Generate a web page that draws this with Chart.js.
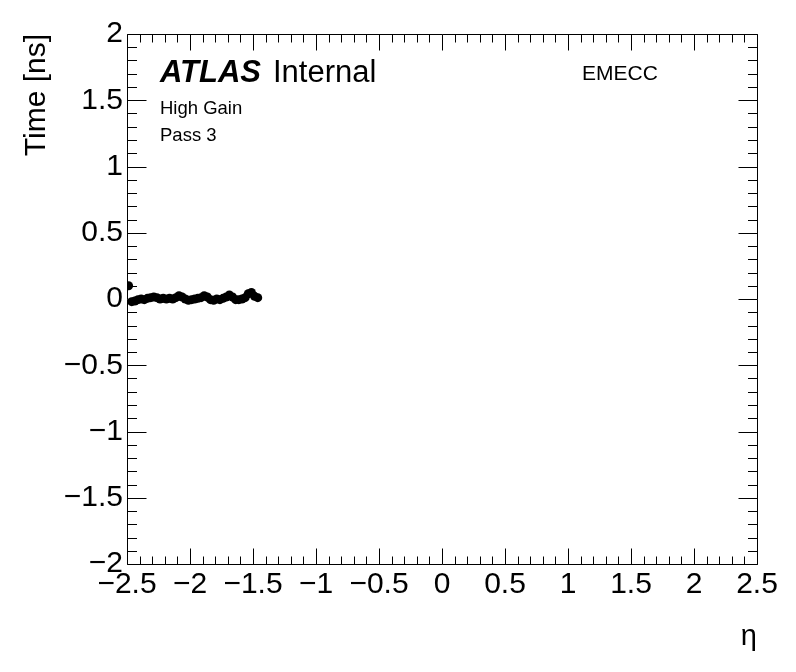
<!DOCTYPE html>
<html><head><meta charset="utf-8">
<script src="https://cdn.jsdelivr.net/npm/chart.js@4/dist/chart.umd.min.js"></script>
<style>html,body{margin:0;padding:0;background:#fff;}canvas{display:block;}</style>
</head><body>
<canvas id="c" width="796" height="672"></canvas>
<script>
// eta bin centres (EMEC C-side)
const etaValues = [-2.4875, -2.4625, -2.4375, -2.4125, -2.3875, -2.3625, -2.3375, -2.3125,
  -2.2875, -2.2625, -2.2375, -2.2125, -2.1875, -2.1625, -2.1375, -2.1125,
  -2.0875, -2.0625, -2.0375, -2.0125, -1.9875, -1.9625, -1.9375, -1.9125,
  -1.8875, -1.8625, -1.8375, -1.8125, -1.7875, -1.7625, -1.7375, -1.7125,
  -1.6875, -1.6625, -1.6375, -1.6125, -1.5875, -1.5625, -1.5375, -1.5125,
  -1.4875, -1.4625];
// mean time [ns]
const timeValues = [0.10, -0.02, -0.015, -0.005, 0.0, -0.005, 0.005, 0.01,
  0.015, 0.01, 0.0, 0.005, 0.0, 0.005, 0.0, 0.01,
  0.025, 0.015, 0.0, -0.01, -0.005, 0.0, 0.005, 0.01,
  0.025, 0.015, -0.005, -0.01, 0.0, -0.005, 0.005, 0.015,
  0.03, 0.015, -0.005, -0.005, 0.0, 0.01, 0.04, 0.05,
  0.02, 0.01];
const xTickValues = [-2.5, -2, -1.5, -1, -0.5, 0, 0.5, 1, 1.5, 2, 2.5];
const xTickLabels = ['\u22122.5', '\u22122', '\u22121.5', '\u22121', '\u22120.5', '0', '0.5', '1', '1.5', '2', '2.5'];
const yTickValues = [-2, -1.5, -1, -0.5, 0, 0.5, 1, 1.5, 2];
const yTickLabels = ['\u22122', '\u22121.5', '\u22121', '\u22120.5', '0', '0.5', '1', '1.5', '2'];
const xTitle = '\u03b7';
const yTitle = 'Time [ns]';
const labelATLAS = 'ATLAS';
const labelStatus = 'Internal';
const labelRegion = 'EMECC';
const labelGain = 'High Gain';
const labelPass = 'Pass 3';

const FONT = "'Liberation Sans', Arial, Helvetica, sans-serif";

const framePlugin = {
  id: 'rootFrame',
  afterDraw(chart) {
    const {ctx, chartArea: a, scales: {x, y}} = chart;
    ctx.save();
    ctx.strokeStyle = '#000';
    ctx.lineWidth = 1;
    ctx.beginPath();
    ctx.rect(Math.round(a.left) + 0.5, Math.round(a.top) + 0.5,
             Math.round(a.right) - Math.round(a.left), Math.round(a.bottom) - Math.round(a.top));
    ctx.stroke();
    ctx.beginPath();
    const top = Math.round(a.top) + 0.5, bot = Math.round(a.bottom) + 0.5;
    const lft = Math.round(a.left) + 0.5, rgt = Math.round(a.right) + 0.5;
    // x ticks
    for (let i = 0; i <= 50; i++) {
      const v = x.min + i * 0.1;
      const px = Math.round(x.getPixelForValue(v)) + 0.5;
      const len = (i % 5 === 0) ? 16 : 8;
      ctx.moveTo(px, bot); ctx.lineTo(px, bot - len);
      ctx.moveTo(px, top); ctx.lineTo(px, top + len);
    }
    // y ticks
    for (let i = 0; i <= 40; i++) {
      const v = y.min + i * 0.1;
      const py = Math.round(y.getPixelForValue(v)) + 0.5;
      const len = (i % 5 === 0) ? 19 : 9.5;
      ctx.moveTo(lft, py); ctx.lineTo(lft + len, py);
      ctx.moveTo(rgt, py); ctx.lineTo(rgt - len, py);
    }
    ctx.stroke();
    // labels
    ctx.fillStyle = '#000';
    ctx.textBaseline = 'alphabetic';
    ctx.textAlign = 'left';
    ctx.font = "italic bold 31px " + FONT;
    ctx.fillText(labelATLAS, 160, 82);
    ctx.font = "31px " + FONT;
    ctx.fillText(labelStatus, 273, 82);
    ctx.font = "21px " + FONT;
    ctx.fillText(labelRegion, 582, 80);
    ctx.font = "18.5px " + FONT;
    ctx.fillText(labelGain, 160, 114);
    ctx.fillText(labelPass, 160, 141);
    ctx.restore();
  }
};

new Chart(document.getElementById('c'), {
  type: 'scatter',
  data: {
    datasets: [{
      data: etaValues.map((e, i) => ({x: e, y: timeValues[i]})),
      backgroundColor: '#000', borderColor: '#000', borderWidth: 0,
      pointRadius: 4.5, pointHoverRadius: 4.5, pointStyle: 'circle'
    }]
  },
  options: {
    responsive: false, animation: false, devicePixelRatio: 1,
    layout: {padding: {left: 0, top: 34, right: 39, bottom: 0}},
    plugins: {legend: {display: false}, tooltip: {enabled: false}},
    scales: {
      x: {
        type: 'linear', min: -2.5, max: 2.5,
        afterBuildTicks: s => { s.ticks = xTickValues.map(v => ({value: v})); },
        afterFit: s => { s.height = 108; },
        grid: {display: false, drawTicks: false}, border: {display: false},
        ticks: {autoSkip: false, maxRotation: 0, minRotation: 0, padding: 3, color: '#000',
          font: {family: FONT, size: 30},
          callback: v => xTickLabels[xTickValues.indexOf(v)]},
        title: {display: true, text: xTitle, align: 'end', color: '#000',
          font: {family: FONT, size: 29}, padding: {top: 0, bottom: 18}}
      },
      y: {
        type: 'linear', min: -2, max: 2,
        afterBuildTicks: s => { s.ticks = yTickValues.map(v => ({value: v})); },
        afterFit: s => { s.width = 127; },
        grid: {display: false, drawTicks: false}, border: {display: false},
        ticks: {autoSkip: false, padding: 4, color: '#000',
          font: {family: FONT, size: 30},
          callback: v => yTickLabels[yTickValues.indexOf(v)]},
        title: {display: true, text: yTitle, align: 'end', color: '#000',
          font: {family: FONT, size: 30}, padding: {top: 19, bottom: 0}}
      }
    }
  },
  plugins: [framePlugin]
});
</script>
</body></html>
